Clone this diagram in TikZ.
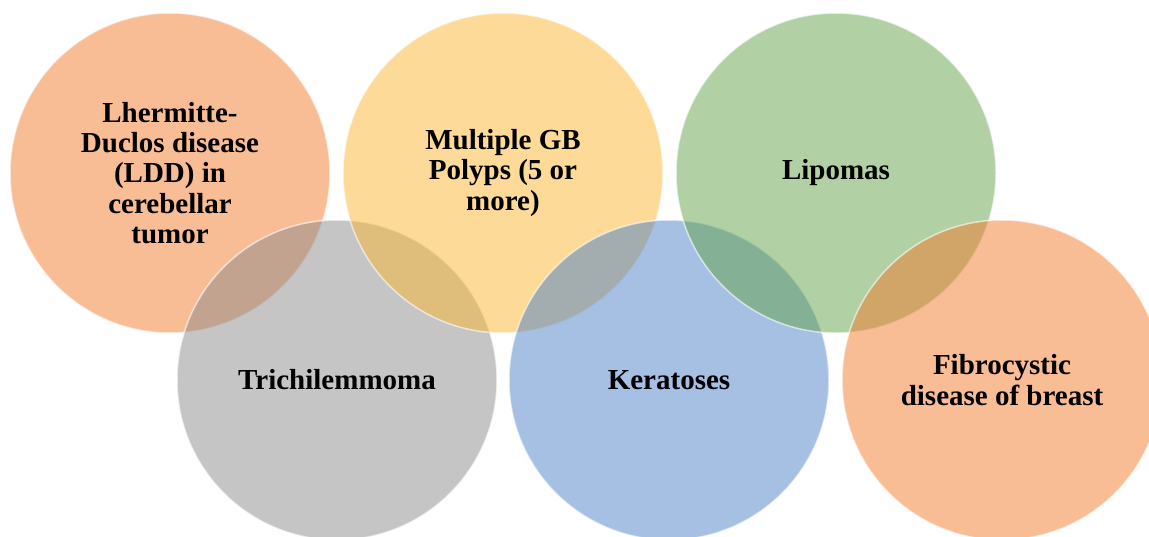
\documentclass[tikz,border=0pt]{standalone}
\usepackage{fontspec}
\setmainfont{Liberation Serif}
\definecolor{corange}{RGB}{241,123,43}
\definecolor{cyellow}{RGB}{251,181,49}
\definecolor{cgreen}{RGB}{99,163,75}
\definecolor{cgray}{RGB}{139,139,139}
\definecolor{cblue}{RGB}{75,129,199}
\tikzset{
  venn/.style={circle, minimum size=320pt, inner sep=0pt, fill=#1, fill opacity=0.5,
    draw=white, draw opacity=0.6, line width=1.5pt},
  lbl/.style={align=center, font=\fontsize{29}{30.3}\selectfont\bfseries, text=black, inner sep=0pt}
}
\begin{document}
\begin{tikzpicture}[x=1pt,y=-1pt]
\useasboundingbox (0,0) rectangle (1149,536);
\clip (0,0) rectangle (1149,536);
\node[venn=corange] (c1) at (170,173) {};
\node[venn=cgray]   (c4) at (337,380) {};
\node[venn=cyellow] (c2) at (503,173) {};
\node[venn=cblue]   (c5) at (669,380) {};
\node[venn=cgreen]  (c3) at (836,173) {};
\node[venn=corange] (c6) at (1002,380) {};
\node[lbl] (t1) at (c1.center) {Lhermitte-\\Duclos disease\\(LDD) in\\cerebellar\\tumor};
\node[lbl] (t2) at (c2.center) {Multiple GB\\Polyps (5 or\\more)};
\node[lbl] (t3) at (c3.center) {Lipomas};
\node[lbl] (t4) at (c4.center) {Trichilemmoma};
\node[lbl] (t5) at (c5.center) {Keratoses};
\node[lbl] (t6) at (c6.center) {Fibrocystic\\disease of breast};
\end{tikzpicture}
\end{document}
